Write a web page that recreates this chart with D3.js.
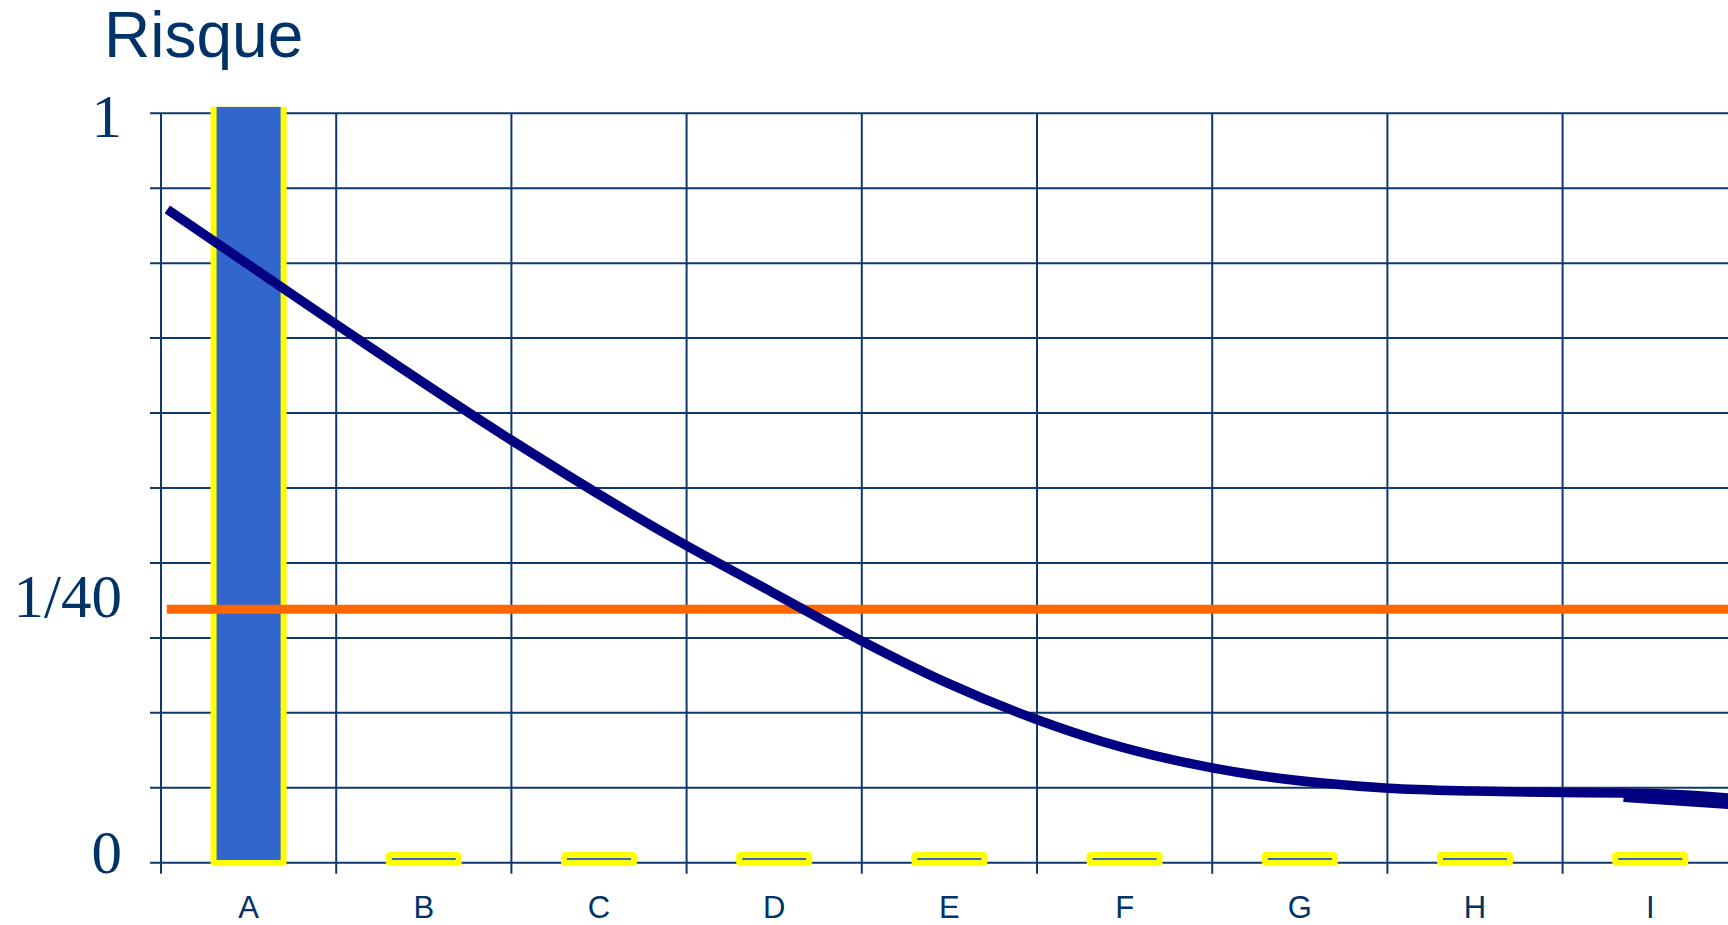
<!DOCTYPE html>
<html lang="fr">
<head>
<meta charset="utf-8">
<title>Risque</title>
<script src="https://cdn.jsdelivr.net/npm/d3@7/dist/d3.min.js"></script>
<style>
  html, body { margin: 0; padding: 0; background: #ffffff; }
  svg { display: block; }
</style>
</head>
<body>
<svg id="chart" width="1728" height="925"></svg>
<script>
// ---- data ----
const categories = ["A", "B", "C", "D", "E", "F", "G", "H", "I"];
const barValues = [1.013, 0, 0, 0, 0, 0, 0, 0, 0];

const yTickValues = [0, 1 / 40, 1];
const yTickLabels = ["0", "1/40", "1"];

const threshold = 1 / 40;

// risk curve, x in category units (0 = left axis, 1 = one category width)
const curveX    = [0.036, 1.0,   1.993, 3.0,   3.484,  3.664,  4.0,     4.49,    4.994,   5.371,   6.0,     6.273,   6.629,   7.006,   7.5,     8.0,     8.348,   8.65,    9.05];
const curveRisk = [0.811, 0.585, 0.359, 0.150, 0.0594, 0.0251, 0.02187, 0.01771, 0.01415, 0.01196, 0.00936, 0.00858, 0.00786, 0.00735, 0.00707, 0.00692, 0.00688, 0.00673, 0.00624];

// short trailing stroke at the right end of the curve
const tailX    = [8.348,   9.05];
const tailRisk = [0.00645, 0.00566];

// ---- layout ----
const W = 1728, H = 925;
const left = 161, step = 175.2;
const yZero = 862.7, yThresh = 609.3, yTop = 113.3;
const ink = "#003366";
const gridColor = "#0e3a6b";

const svg = d3.select("#chart");

const xBand = d3.scaleBand().domain(categories)
  .range([left, left + categories.length * step]).padding(0);
const xLin = d3.scaleLinear().domain([0, categories.length])
  .range([left, left + categories.length * step]);
const yRisk = d3.scaleLinear().domain([0, threshold, 1])
  .range([yZero, yThresh, yTop]);
const yGrid = d3.scaleLinear().domain([0, 10]).range([yZero, yTop]);

// ---- grid ----
const grid = svg.append("g").attr("stroke", gridColor).attr("stroke-width", 2);
grid.selectAll("line.h").data(yGrid.ticks(10)).join("line")
  .attr("class", "h")
  .attr("x1", left - 11).attr("x2", W)
  .attr("y1", d => yGrid(d)).attr("y2", d => yGrid(d));
grid.selectAll("line.v").data(d3.range(categories.length + 1)).join("line")
  .attr("class", "v")
  .attr("x1", d => xLin(d)).attr("x2", d => xLin(d))
  .attr("y1", yTop).attr("y2", yZero + 11);

// ---- bars ----
svg.append("defs").append("clipPath").attr("id", "barClip")
  .append("rect").attr("x", 0).attr("y", 106.7).attr("width", W).attr("height", H);

const barW = 64, pad = 6, lift = 2.7;
const bars = svg.append("g").attr("clip-path", "url(#barClip)");
const barData = categories.map((c, i) => {
  const bottom = yRisk(0) - lift;
  const top = Math.min(yRisk(barValues[i]), bottom - 2);
  return { c, top, bottom, x: xBand(c) + (xBand.bandwidth() - barW) / 2 };
});
bars.selectAll("rect.frame").data(barData).join("rect")
  .attr("class", "frame")
  .attr("x", d => d.x - pad).attr("y", d => d.top - pad)
  .attr("width", barW + 2 * pad).attr("height", d => d.bottom - d.top + 2 * pad)
  .attr("rx", 4).attr("fill", "#ffff00");
bars.selectAll("rect.bar").data(barData).join("rect")
  .attr("class", "bar")
  .attr("x", d => d.x).attr("y", d => d.top)
  .attr("width", barW).attr("height", d => d.bottom - d.top)
  .attr("fill", "#3366cc");

// ---- threshold line ----
svg.append("line")
  .attr("x1", xLin(0.033)).attr("x2", xLin(9.05))
  .attr("y1", yRisk(threshold)).attr("y2", yRisk(threshold))
  .attr("stroke", "#ff6600").attr("stroke-width", 9);

// ---- risk curve ----
const line = d3.line()
  .x(d => xLin(d[0])).y(d => yRisk(d[1]))
  .curve(d3.curveMonotoneX);
svg.append("path")
  .datum(d3.zip(curveX, curveRisk))
  .attr("d", line)
  .attr("fill", "none").attr("stroke", "#000080")
  .attr("stroke-width", 9.5).attr("stroke-linecap", "butt");
svg.append("path")
  .datum(d3.zip(tailX, tailRisk))
  .attr("d", d3.line().x(d => xLin(d[0])).y(d => yRisk(d[1])))
  .attr("fill", "none").attr("stroke", "#000080")
  .attr("stroke-width", 9.5).attr("stroke-linecap", "butt");

// ---- labels ----
svg.append("text")
  .attr("x", 104).attr("y", 57)
  .attr("font-family", "'Liberation Sans', Arial, sans-serif")
  .attr("font-size", 64).attr("fill", ink)
  .text("Risque");

const labelDy = [10.3, 8, 23.4];
svg.selectAll("text.ylab").data(yTickValues).join("text")
  .attr("class", "ylab")
  .attr("x", 122)
  .attr("y", (d, i) => yRisk(d) + labelDy[i])
  .attr("text-anchor", "end")
  .attr("font-family", "'Liberation Serif', 'Times New Roman', serif")
  .attr("font-size", 61).attr("fill", ink)
  .text((d, i) => yTickLabels[i]);

svg.selectAll("text.xlab").data(categories).join("text")
  .attr("class", "xlab")
  .attr("x", d => xBand(d) + xBand.bandwidth() / 2)
  .attr("y", 918)
  .attr("text-anchor", "middle")
  .attr("font-family", "'Liberation Sans', Arial, sans-serif")
  .attr("font-size", 31).attr("fill", ink)
  .text(d => d);
</script>
</body>
</html>
